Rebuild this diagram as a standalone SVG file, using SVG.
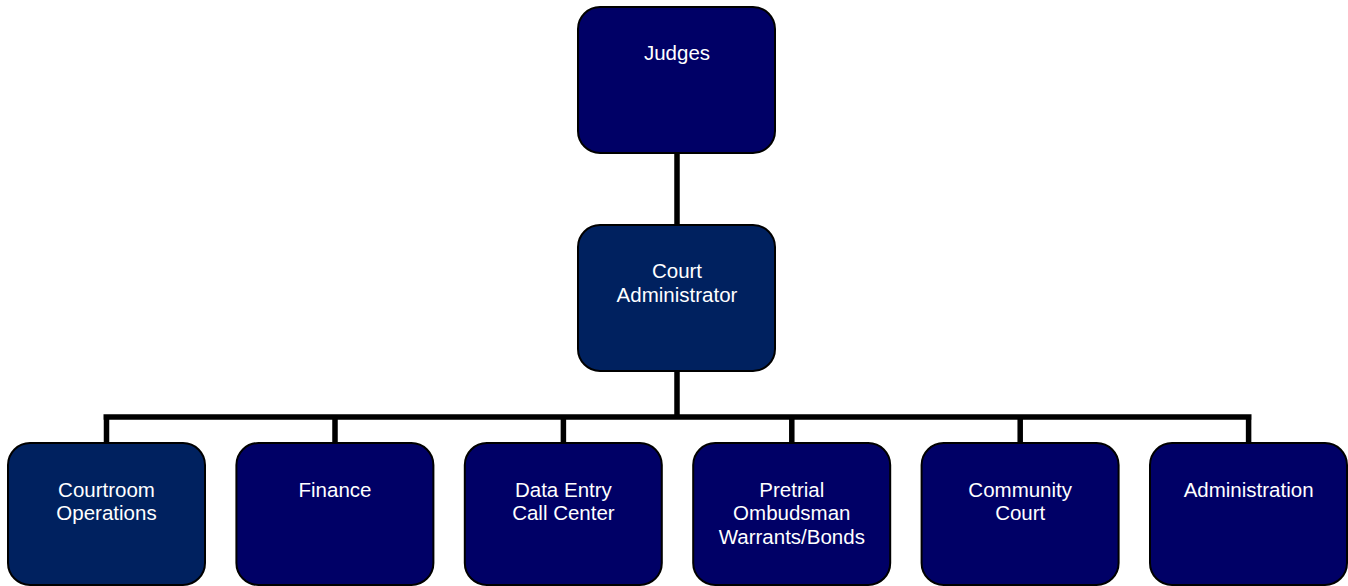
<svg xmlns="http://www.w3.org/2000/svg" width="1348" height="586" viewBox="0 0 1348 586">
<style>
.box{stroke:#000;stroke-width:2}
.a{fill:#000066}
.b{fill:#00215f}
.t{font-family:"Liberation Sans",Arial,sans-serif;font-size:20.5px;fill:#fff;text-anchor:middle}
.c{stroke:#000;stroke-width:5.5;fill:none}
</style>
<rect width="1348" height="586" fill="#fff"/>
<g id="connectors">
<path class="c" d="M677 153V225M677 371V417M103.5 417H1251.5M106.5 417V443M335 417V443M563.4 417V443M791.8 417V443M1020.2 417V443M1248.6 417V443"/>
</g>
<g id="judges"><rect class="box a" x="578" y="7" width="197" height="146" rx="22"/><text class="t" x="677" y="60">Judges</text></g>
<g id="court-administrator"><rect class="box b" x="578" y="225" width="197" height="146" rx="22"/><text class="t" x="677" y="278">Court</text><text class="t" x="677" y="302">Administrator</text></g>
<g id="courtroom-operations"><rect class="box b" x="8" y="443" width="197" height="142" rx="22"/><text class="t" x="106.5" y="497">Courtroom</text><text class="t" x="106.5" y="520">Operations</text></g>
<g id="finance"><rect class="box a" x="236.4" y="443" width="197" height="142" rx="22"/><text class="t" x="335" y="497">Finance</text></g>
<g id="data-entry"><rect class="box a" x="464.8" y="443" width="197" height="142" rx="22"/><text class="t" x="563.4" y="497">Data Entry</text><text class="t" x="563.4" y="520">Call Center</text></g>
<g id="pretrial"><rect class="box a" x="693.2" y="443" width="197" height="142" rx="22"/><text class="t" x="791.8" y="497">Pretrial</text><text class="t" x="791.8" y="520">Ombudsman</text><text class="t" x="791.8" y="544">Warrants/Bonds</text></g>
<g id="community-court"><rect class="box a" x="921.6" y="443" width="197" height="142" rx="22"/><text class="t" x="1020.2" y="497">Community</text><text class="t" x="1020.2" y="520">Court</text></g>
<g id="administration"><rect class="box a" x="1150" y="443" width="197" height="142" rx="22"/><text class="t" x="1248.6" y="497">Administration</text></g>
</svg>
